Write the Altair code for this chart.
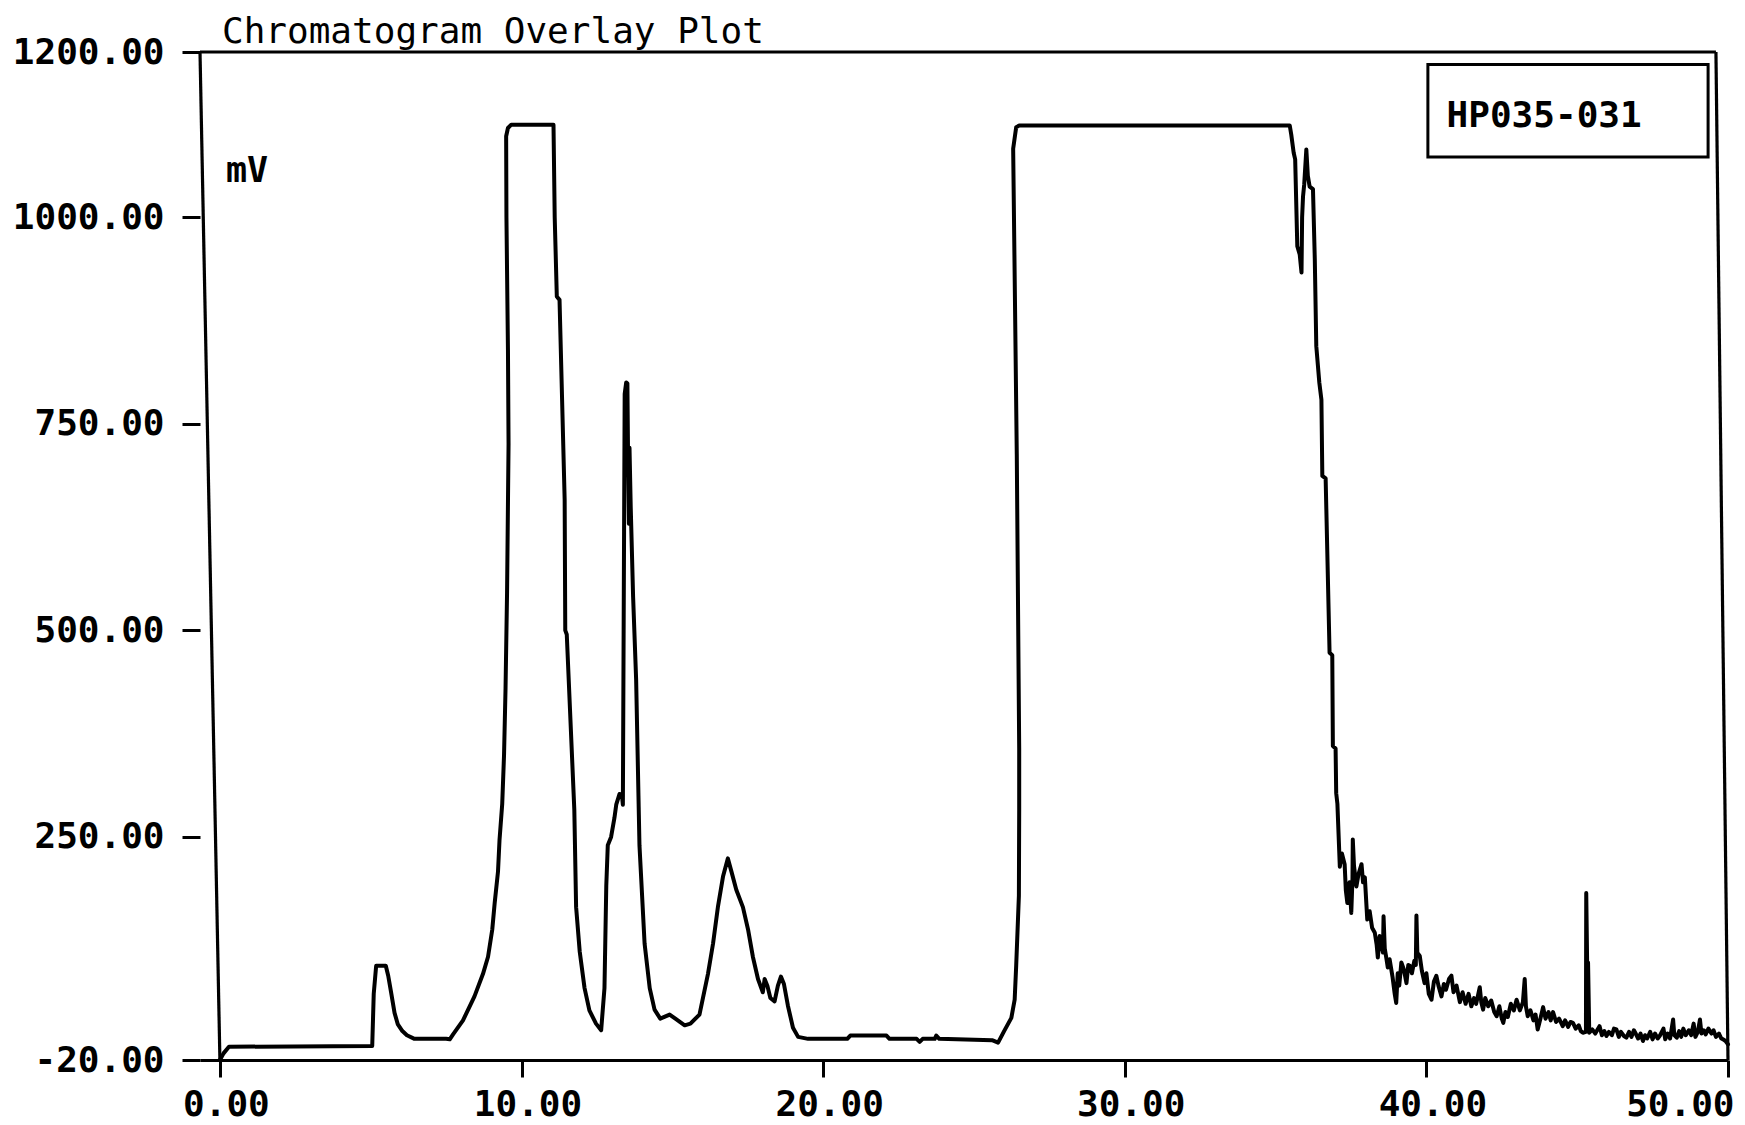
import altair as alt
import pandas as pd

# ---- data (time in min, signal in mV) ----
time_min = [
    0.00, 0.12, 0.30, 5.05, 5.10, 5.18, 5.50, 5.58, 5.68, 5.79, 5.90, 6.05, 6.20, 6.45, 7.50,
    7.62, 7.73, 8.06, 8.44, 8.72, 8.89, 9.03, 9.11, 9.22, 9.27, 9.36, 9.42, 9.47, 9.52, 9.57,
    9.55, 9.52, 9.50, 9.49, 9.55, 9.66, 11.06, 11.10, 11.17, 11.26, 11.43, 11.45, 11.50,
    11.75, 11.81, 11.93, 12.09, 12.25, 12.47, 12.64,
    12.75, 12.81, 12.86, 12.97, 13.08, 13.14, 13.25, 13.33, 13.36, 13.40, 13.42, 13.47, 13.51,
    13.53, 13.56, 13.58, 13.62, 13.70, 13.80, 13.91, 14.08, 14.25, 14.41, 14.60, 14.91, 15.10,
    15.41, 15.60, 15.90, 16.18, 16.35, 16.51, 16.68, 16.84, 16.96, 17.12, 17.34, 17.51, 17.67,
    17.84, 18.00, 18.06, 18.15, 18.25, 18.39, 18.50, 18.60, 18.70, 18.83, 19.00, 19.17, 19.50,
    20.80, 20.90, 22.10, 22.20, 23.10, 23.20, 23.30, 23.70, 23.75, 23.85, 25.60, 25.80, 26.00,
    26.24, 26.35, 26.40, 26.49, 26.50, 26.50, 26.42, 26.30, 26.40, 26.50,
    35.47, 35.52, 35.60, 35.65, 35.72, 35.80, 35.86, 35.88, 35.91, 35.95, 36.02, 36.07, 36.13,
    36.24, 36.30, 36.35, 36.45, 36.52, 36.55, 36.66, 36.79, 36.88, 36.90, 36.99, 37.01, 37.05,
    37.13, 37.20, 37.29, 37.33, 37.38, 37.45, 37.51, 37.55, 37.56, 37.60, 37.68, 37.75, 37.85,
    37.90, 37.96, 38.04, 38.12, 38.20, 38.29, 38.35, 38.39, 38.45, 38.56, 38.58, 38.62, 38.67,
    38.72, 38.78, 38.88, 38.95, 39.00, 39.05, 39.10, 39.17, 39.25, 39.34, 39.40, 39.45, 39.52,
    39.60, 39.65, 39.67, 39.70, 39.78, 39.85, 39.94, 40.00, 40.08, 40.17, 40.25, 40.33, 40.40,
    40.50, 40.58, 40.65, 40.75, 40.83, 40.90, 41.00, 41.11, 41.20, 41.30, 41.40, 41.49, 41.58,
    41.65, 41.77, 41.82, 41.88, 41.95, 42.05, 42.15, 42.25, 42.33, 42.42, 42.50, 42.55, 42.62,
    42.70, 42.80, 42.90, 42.99, 43.10, 43.20, 43.26, 43.30, 43.36, 43.45, 43.55, 43.62, 43.69,
    43.78, 43.87, 43.95, 44.05, 44.12, 44.20, 44.30, 44.40, 44.52, 44.60, 44.70, 44.78, 44.86,
    44.95, 45.05, 45.12, 45.19, 45.29, 45.30, 45.33, 45.36, 45.40, 45.50, 45.60, 45.74, 45.82,
    45.90, 45.97, 46.05, 46.15, 46.22, 46.30, 46.38, 46.45, 46.55, 46.63, 46.72, 46.80, 46.88,
    46.94, 47.02, 47.10, 47.18, 47.25, 47.32, 47.42, 47.50, 47.58, 47.67, 47.75, 47.86, 47.92,
    48.00, 48.08, 48.18, 48.22, 48.30, 48.38, 48.45, 48.52, 48.60, 48.70, 48.78, 48.86, 48.92,
    49.00, 49.07, 49.12, 49.20, 49.26, 49.35, 49.45, 49.52, 49.60, 49.70, 49.78, 49.84, 49.92,
    50.00,
]
signal_mv = [
    -20, -12, -4, -3, 60, 94, 94, 82, 61, 37, 23, 15, 10, 5.6, 5.6,
    5, 11, 28, 57, 84, 105, 138, 170, 208, 246, 290, 349, 430, 545, 726,
    840, 935, 1000, 1098, 1108, 1112, 1112, 1000, 904, 900, 658, 500, 495,
    283, 165, 111, 67, 40, 24, 16,
    67, 191, 240, 250, 273, 289, 302, 300, 289, 620, 786, 800, 799,
    720, 629, 721, 650, 540, 440, 240, 121, 67, 41, 30, 35, 30,
    22, 24, 35, 84, 121, 165, 202, 224, 208, 186, 165, 138, 105,
    78, 62, 78, 70, 55, 51, 70, 81, 72, 46, 19, 8, 5.6,
    5.6, 9.6, 9.6, 5.6, 5.6, 2, 5.6, 5.6, 9.6, 5.6, 4, 1, 15,
    31, 53, 94, 179, 283, 357, 713, 1083, 1109, 1111,
    1111, 1100, 1078, 1070, 965, 955, 933, 1000, 1025, 1040, 1082, 1050, 1037,
    1034, 950, 844, 800, 779, 687, 684, 473, 470, 360, 357, 303, 290,
    214, 230, 217, 185, 170, 195, 158, 200, 247, 215, 190, 205, 217,
    195, 201, 150, 160, 140, 134, 120, 104, 130, 110, 154, 115, 104,
    92, 102, 80, 60, 49, 85, 70, 98, 90, 73, 95, 94, 85,
    100, 95, 155, 110, 106, 88, 73, 85, 60, 53, 75, 82, 70,
    57, 72, 65, 78, 82, 62, 70, 50, 62, 48, 60, 45, 55,
    48, 68, 50, 41, 55, 45, 52, 38, 33, 45, 30, 25, 38,
    32, 48, 40, 53, 40, 50, 78, 45, 33, 40, 28, 35, 17,
    30, 44, 30, 38, 28, 38, 26, 30, 21, 28, 20, 26, 25,
    18, 22, 15, 13, 14, 182, 98, 98, 13, 17, 12, 21, 10,
    15, 9, 14, 10, 18, 17, 8, 14, 9, 7, 14, 8, 16,
    12, 6, 12, 3, 10, 6, 14, 5, 12, 6, 10, 18, 5,
    12, 6, 29, 10, 7, 15, 8, 18, 10, 16, 10, 24, 8,
    14, 29, 12, 16, 11, 18, 12, 16, 8, 12, 6, 5, 3,
    -1,
]

x_ticks = [0, 10, 20, 30, 40, 50]
y_ticks = [-20, 250, 500, 750, 1000, 1200]

title_text = "Chromatogram Overlay Plot"
unit_text = ["mV"]
sample_text = ["HP035-031"]

# frame of the (slightly skewed) scanned plot
frame_x = [-0.66, -0.66, 49.60]
frame_y = [1200, 1200, 1200]
frame_x2 = [49.60, 0.00, 50.00]
frame_y2 = [1200, -20, -20]

# legend box
box_x, box_x2, box_y, box_y2 = [40.05], [49.34], [1185], [1073]

trace = pd.DataFrame({"t": time_min, "mv": signal_mv, "i": list(range(len(time_min)))})
frame_df = pd.DataFrame({"x": frame_x, "y": frame_y, "x2": frame_x2, "y2": frame_y2})
box_df = pd.DataFrame({"x": box_x, "x2": box_x2, "y": box_y, "y2": box_y2})
unit_df = pd.DataFrame({"x": [0.20], "y": [1043], "label": unit_text})
sample_df = pd.DataFrame({"x": [40.67], "y": [1123], "label": sample_text})

FONT = "DejaVu Sans Mono"
x_scale = alt.Scale(domain=[-0.66, 50], nice=False, zero=False)
y_scale = alt.Scale(domain=[-20, 1200], nice=False, zero=False)

x_axis = alt.Axis(
    values=x_ticks, title=None, grid=False,
    labelExpr="datum.value == 0 ? '\u00a0' + format(datum.value, '.2f') : format(datum.value, '.2f')",
    labelFont=FONT, labelFontSize=36, labelFontWeight="bold", labelColor="black",
    labelPadding=10, labelFlush=True, labelOffset=6, labelOverlap=False,
    tickColor="black", tickWidth=3, tickSize=17,
    domainColor="black", domainWidth=3,
)
y_axis = alt.Axis(
    values=y_ticks, title=None, grid=False, domain=False,
    labelExpr="datum.value < 0 ? '-' + format(-datum.value, '.2f') : format(datum.value, '.2f')",
    labelFont=FONT, labelFontSize=36, labelFontWeight="bold", labelColor="black",
    labelPadding=18, labelOverlap=False,
    tickColor="black", tickWidth=3, tickSize=18,
)

line = alt.Chart(trace).mark_line(
    color="black", strokeWidth=4, strokeJoin="round", strokeCap="round"
).encode(
    x=alt.X("t:Q", scale=x_scale, axis=x_axis),
    y=alt.Y("mv:Q", scale=y_scale, axis=y_axis),
    order="i:Q",
)

frame = alt.Chart(frame_df).mark_rule(color="black", strokeWidth=3.2).encode(
    x=alt.X("x:Q", scale=x_scale, axis=x_axis),
    y=alt.Y("y:Q", scale=y_scale, axis=y_axis),
    x2="x2:Q", y2="y2:Q",
)

box = alt.Chart(box_df).mark_rect(fill="white", stroke="black", strokeWidth=3).encode(
    x=alt.X("x:Q", scale=x_scale, axis=x_axis),
    x2="x2:Q",
    y=alt.Y("y:Q", scale=y_scale, axis=y_axis),
    y2="y2:Q",
)

unit = alt.Chart(unit_df).mark_text(
    font=FONT, fontSize=35, fontWeight="bold", color="black", align="left", baseline="alphabetic"
).encode(
    x=alt.X("x:Q", scale=x_scale, axis=x_axis),
    y=alt.Y("y:Q", scale=y_scale, axis=y_axis),
    text="label:N",
)

sample = alt.Chart(sample_df).mark_text(
    font=FONT, fontSize=36, fontWeight="bold", color="black", align="left", baseline="middle"
).encode(
    x=alt.X("x:Q", scale=x_scale, axis=x_axis),
    y=alt.Y("y:Q", scale=y_scale, axis=y_axis),
    text="label:N",
)

chart = alt.layer(line, frame, box, unit, sample).properties(
    width=1528,
    height=1008,
    title=alt.TitleParams(
        title_text, anchor="start", frame="group", dx=22, dy=57, offset=12,
        baseline="alphabetic",
        font=FONT, fontSize=36, fontWeight="normal", color="black",
    ),
    autosize=alt.AutoSizeParams(type="none"),
    padding={"left": 200, "top": 52, "right": 17, "bottom": 65},
    background="white",
).configure_view(stroke=None)

chart.save("out.html", embed_options={"renderer": "svg", "actions": False})
